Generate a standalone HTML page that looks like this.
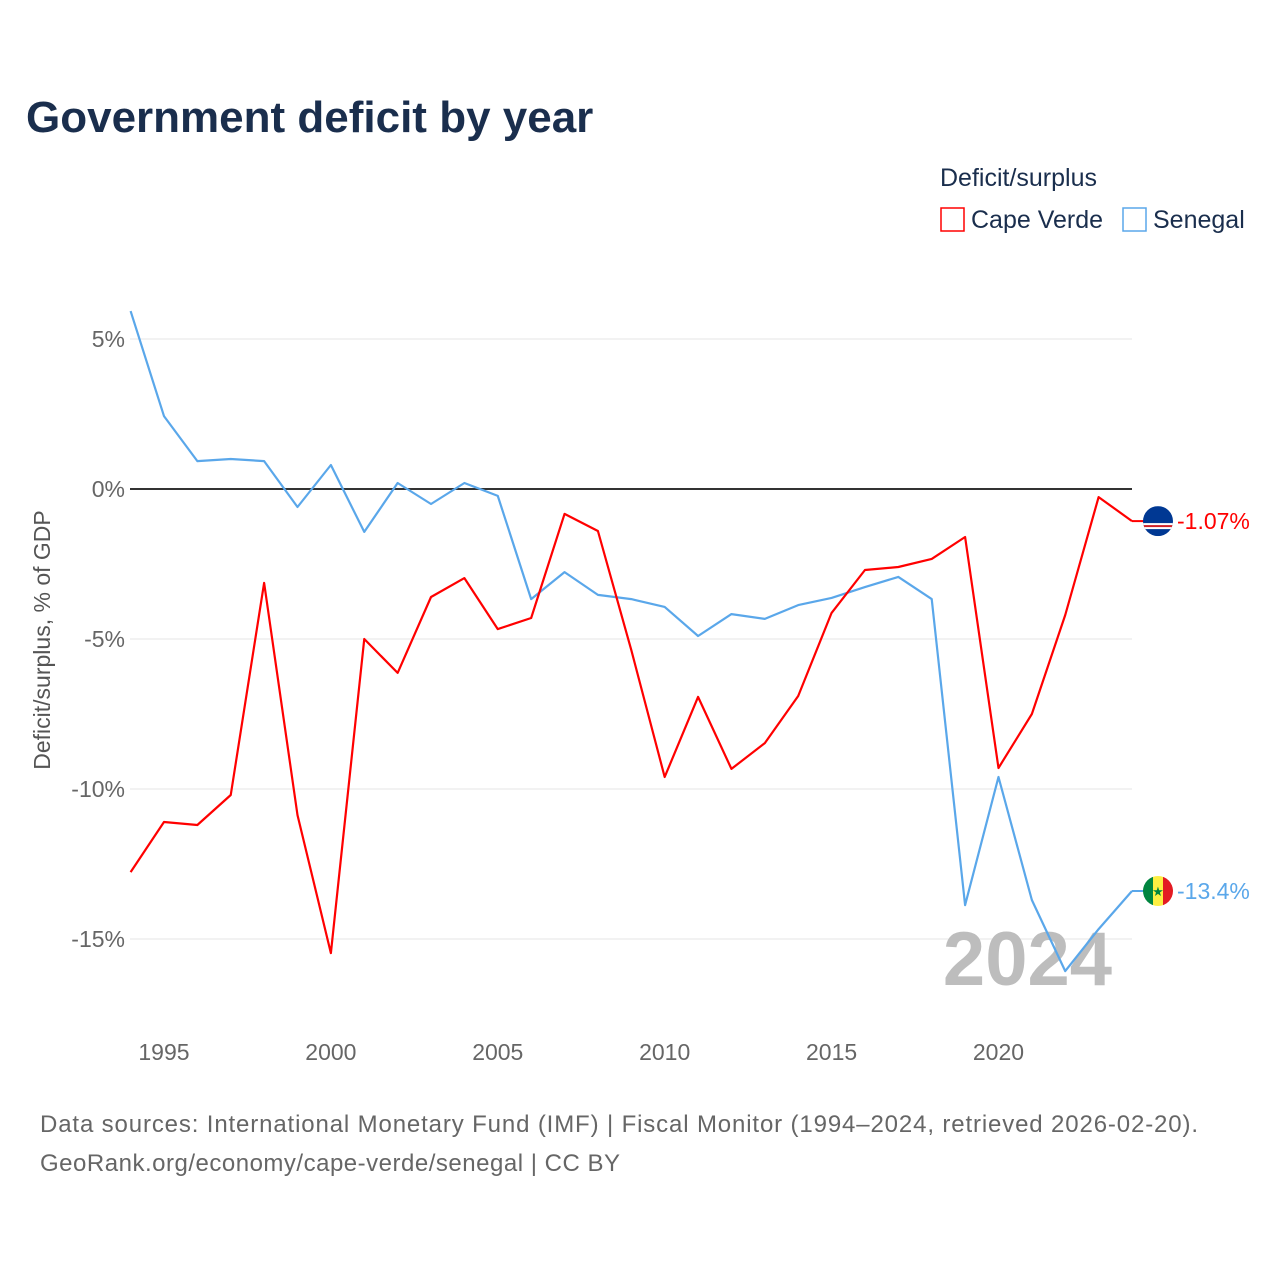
<!DOCTYPE html>
<html><head><meta charset="utf-8"><style>
body{margin:0;background:#fff;font-family:"Liberation Sans",sans-serif;}
</style></head><body>
<svg width="1280" height="1280" viewBox="0 0 1280 1280" xmlns="http://www.w3.org/2000/svg">
<text x="26" y="132" font-size="44" font-weight="bold" fill="#1a2e4d">Government deficit by year</text>
<text x="940" y="186" font-size="25" fill="#1a2e4d">Deficit/surplus</text>
<g><rect x="941" y="208" width="23" height="23" fill="none" stroke="#ff0000" stroke-width="1.5"/><text x="971" y="228" font-size="25" fill="#1a2e4d">Cape Verde</text></g>
<g><rect x="1123" y="208" width="23" height="23" fill="none" stroke="#5aa7ea" stroke-width="1.5"/><text x="1153" y="228" font-size="25" fill="#1a2e4d">Senegal</text></g>
<g id="grid"></g>
<text x="1112" y="985" font-size="76" font-weight="bold" fill="#bdbdbd" text-anchor="end">2024</text>
<g id="series"></g>
<text transform="translate(50,640) rotate(-90)" font-size="23" fill="#555" text-anchor="middle">Deficit/surplus, % of GDP</text>
<text x="40" y="1132" font-size="24" fill="#666" textLength="1158">Data sources: International Monetary Fund (IMF) | Fiscal Monitor (1994–2024, retrieved 2026-02-20).</text>
<text x="40" y="1171" font-size="24" fill="#666" textLength="580">GeoRank.org/economy/cape-verde/senegal | CC BY</text>
</svg>
<script>
const years=[1994,1995,1996,1997,1998,1999,2000,2001,2002,2003,2004,2005,2006,2007,2008,2009,2010,2011,2012,2013,2014,2015,2016,2017,2018,2019,2020,2021,2022,2023,2024];
const capeVerde=[-12.77,-11.1,-11.2,-10.2,-3.13,-10.87,-15.47,-5.0,-6.13,-3.6,-2.97,-4.67,-4.3,-0.83,-1.4,-5.37,-9.6,-6.93,-9.33,-8.47,-6.9,-4.13,-2.7,-2.6,-2.33,-1.6,-9.3,-7.5,-4.2,-0.27,-1.07];
const senegal=[5.93,2.43,0.93,1.0,0.93,-0.6,0.8,-1.43,0.2,-0.5,0.2,-0.23,-3.67,-2.77,-3.53,-3.67,-3.93,-4.9,-4.17,-4.33,-3.87,-3.63,-3.27,-2.93,-3.67,-13.87,-9.6,-13.7,-16.07,-14.67,-13.4];
const yTicks=[5,0,-5,-10,-15];
const xTicks=[1995,2000,2005,2010,2015,2020];
const NS="http://www.w3.org/2000/svg";
const X=y=>130.6+(y-1994)*(1132-130.6)/30;
const Y=v=>489-v*30;
function mk(t,a,p){const e=document.createElementNS(NS,t);for(const k in a)e.setAttribute(k,a[k]);p.appendChild(e);return e;}
const g=document.getElementById('grid'),s=document.getElementById('series');
yTicks.forEach(v=>{
 const l=mk('line',{x1:130,x2:1132,y1:Y(v),y2:Y(v),stroke:v===0?'#333':'#e6e6e6','stroke-width':v===0?2:1},g);
 
 
 const t=mk('text',{x:125,y:Y(v)+8,'font-size':23,fill:'#666','text-anchor':'end'},g);t.textContent=v+'%';
 
 
});
xTicks.forEach(v=>{
 const t=mk('text',{x:X(v),y:1060,'font-size':23,fill:'#666','text-anchor':'middle'},g);t.textContent=v;
 
 
});
function line(vals,color,name){
 const p=mk('polyline',{points:vals.map((v,i)=>X(years[i])+','+Y(v)).join(' '),fill:'none',stroke:color,'stroke-width':2.2,'stroke-linejoin':'round'},s);
 
 
}
line(senegal,'#5aa7ea','senegal');
line(capeVerde,'#ff0000','cape-verde');
function end(vals,color,name,label,flag){
 const v=vals[vals.length-1],y=Y(v),x=1158;
 const gg=mk('g',{},s);
 
 
 mk('line',{x1:X(2024),x2:x-14,y1:y,y2:y,stroke:color,'stroke-width':2},gg);
 const cid='c'+name;
 const cpth=mk('clipPath',{id:cid},gg);
 mk('circle',{cx:x,cy:y,r:15},cpth);
 const fg=mk('g',{'clip-path':'url(#'+cid+')'},gg);
 flag(fg,x,y);
 const t=mk('text',{x:x+19,y:y+8,'font-size':23,fill:color},gg);t.textContent=label;
}
end(capeVerde,'#ff0000','cape-verde','-1.07%',(fg,x,y)=>{
 mk('rect',{x:x-15,y:y-15,width:30,height:30,fill:'#003893'},fg);
 mk('rect',{x:x-15,y:y+2,width:30,height:6,fill:'#fff'},fg);
 mk('rect',{x:x-15,y:y+4,width:30,height:2,fill:'#cf2027'},fg);
});
end(senegal,'#5aa7ea','senegal','-13.4%',(fg,x,y)=>{
 mk('rect',{x:x-15,y:y-15,width:10,height:30,fill:'#00853f'},fg);
 mk('rect',{x:x-5,y:y-15,width:10,height:30,fill:'#fdef42'},fg);
 mk('rect',{x:x+5,y:y-15,width:10,height:30,fill:'#e31b23'},fg);
 const st=mk('text',{x:x,y:y+5,'font-size':13,fill:'#00853f','text-anchor':'middle'},fg);st.textContent='★';
});
</script>
</body></html>
